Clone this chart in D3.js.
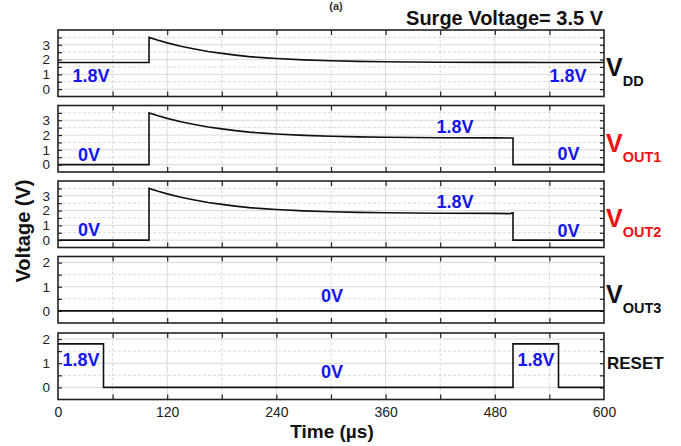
<!DOCTYPE html>
<html>
<head>
<meta charset="utf-8">
<script src="https://cdn.jsdelivr.net/npm/d3@7"></script>
<style>
  body { margin: 0; background: #fff; }
  svg { display: block; font-family: "Liberation Sans", Arial, sans-serif; }
</style>
</head>
<body>
<svg id="chart" width="681" height="446"></svg>
<script>
// time axis (µs)
var timeTicks = [0, 120, 240, 360, 480, 600];

// surge decay
var surgeT = [100, 110, 120, 135, 150, 165, 180, 195, 210, 225, 240, 270, 300, 330, 360, 420, 480];
var surgeV = [3.5, 3.3, 3.13, 2.9, 2.72, 2.55, 2.42, 2.3, 2.2, 2.13, 2.07, 1.98, 1.92, 1.88, 1.85, 1.82, 1.81];

var vddT = [0, 100].concat(surgeT, [540, 600]);
var vddV = [1.8, 1.8].concat(surgeV, [1.8, 1.8]);
var out1T = [0, 100].concat(surgeT, [500, 500, 600]);
var out1V = [0, 0].concat(surgeV, [1.8, 0, 0]);
var out2T = [0, 100].concat(surgeT, [497, 499, 500, 500, 600]);
var out2V = [0, 0].concat(surgeV, [1.79, 1.84, 1.84, 0, 0]);
var out3T = [0, 600];
var out3V = [0, 0];
var resetT = [0, 50, 50, 500, 500, 550, 550, 600];
var resetV = [1.8, 1.8, 0, 0, 1.8, 1.8, 0, 0];

var panelNames = ["VDD", "VOUT1", "VOUT2", "VOUT3", "RESET"];
var panelT = [vddT, out1T, out2T, out3T, resetT];
var panelV = [vddV, out1V, out2V, out3V, resetV];
var panelMax = [4, 4, 4, 2.25, 2.25];
var panelLabelMax = [3, 3, 3, 2, 2];
// annotations: [panel, text, time, volts]
var notes = [
  [0, "1.8V", 16, 0.45], [0, "1.8V", 540, 0.45],
  [1, "0V", 22, 0.25], [1, "1.8V", 416, 2.15], [1, "0V", 549, 0.3],
  [2, "0V", 22, 0.25], [2, "1.8V", 416, 2.15], [2, "0V", 549, 0.2],
  [3, "0V", 289, 0.37],
  [4, "1.8V", 5, 0.87], [4, "0V", 289, 0.37], [4, "1.8V", 505, 0.87]
];

var svg = d3.select("#chart");
var left = 58, right = 604, ph = 66.5;
var tops = [30, 105.5, 181, 256.5, 333];
var x = d3.scaleLinear().domain([0, 600]).range([left, right]);
var line = d3.line();

svg.append("text").attr("x", 336).attr("y", 10).attr("text-anchor", "middle")
  .attr("font-size", 11).attr("font-weight", "bold").attr("fill", "#333").text("(a)");

svg.append("text").attr("x", 603).attr("y", 25).attr("text-anchor", "end")
  .attr("font-size", 20).attr("font-weight", "bold").attr("fill", "#111")
  .text("Surge Voltage= 3.5 V");

panelNames.forEach(function (name, i) {
  var top = tops[i], bot = top + ph;
  var y = d3.scaleLinear().domain([-0.5, panelMax[i]]).range([bot, top]);
  var g = svg.append("g");
  var halves = d3.range(0, panelMax[i], 0.5);

  // grid
  g.selectAll(".hg").data(halves).enter().append("line")
    .attr("x1", left).attr("x2", right)
    .attr("y1", function (d) { return y(d); }).attr("y2", function (d) { return y(d); })
    .attr("stroke", "#cfcfcf").attr("stroke-width", 0.8)
    .attr("stroke-dasharray", function (d) { return d % 1 === 0 ? null : "3,2"; });
  g.selectAll(".vg").data(d3.range(60, 600, 60)).enter().append("line")
    .attr("x1", function (d) { return x(d); }).attr("x2", function (d) { return x(d); })
    .attr("y1", top).attr("y2", bot)
    .attr("stroke", "#cfcfcf").attr("stroke-width", 0.8)
    .attr("stroke-dasharray", function (d) { return d % 120 === 0 ? null : "3,2"; });

  // inner ticks
  var tx = d3.range(60, 600, 60);
  g.append("g").attr("transform", "translate(0," + bot + ")")
    .call(d3.axisBottom(x).tickValues(tx).tickSize(-5).tickFormat(""));
  g.append("g").attr("transform", "translate(0," + top + ")")
    .call(d3.axisTop(x).tickValues(tx).tickSize(-5).tickFormat(""));
  g.append("g").attr("transform", "translate(" + right + ",0)")
    .call(d3.axisRight(y).tickValues(halves).tickSize(-4).tickFormat(""));
  g.append("g").attr("transform", "translate(" + left + ",0)")
    .call(d3.axisLeft(y).tickValues(halves).tickSize(-4).tickPadding(8)
      .tickFormat(function (d) { return (d % 1 === 0 && d <= panelLabelMax[i]) ? d : ""; }));
  g.selectAll(".domain").remove();
  g.selectAll(".tick line").attr("stroke", "#222").attr("stroke-width", 1.2);
  g.selectAll(".tick text").attr("font-size", 13.5).attr("fill", "#222")
    .attr("font-family", "Liberation Sans, Arial, sans-serif");

  // signal
  var pts = panelT[i].map(function (t, k) { return [x(t), y(panelV[i][k])]; });
  g.append("path").attr("d", line(pts)).attr("fill", "none")
    .attr("stroke", "#111").attr("stroke-width", 1.6);

  g.append("rect").attr("x", left).attr("y", top).attr("width", right - left).attr("height", ph)
    .attr("fill", "none").attr("stroke", "#222").attr("stroke-width", 1.6);

  // right label
  if (name === "RESET") {
    g.append("text").attr("x", 607).attr("y", top + 36).attr("font-size", 17)
      .attr("font-weight", "bold").attr("fill", "#111").text("RESET");
  } else {
    var col = (name === "VOUT1" || name === "VOUT2") ? "#ee1111" : "#111";
    var t = g.append("text").attr("x", 606).attr("y", top + 46)
      .attr("font-weight", "bold").attr("fill", col);
    t.append("tspan").attr("font-size", 25).text("V");
    t.append("tspan").attr("font-size", 14.5).attr("dy", 10).text(name.slice(1));
  }
});

// blue value notes
notes.forEach(function (n) {
  var top = tops[n[0]];
  var y = d3.scaleLinear().domain([-0.5, panelMax[n[0]]]).range([top + ph, top]);
  svg.append("text").attr("x", x(n[2])).attr("y", y(n[3]))
    .attr("font-size", 18).attr("font-weight", "bold").attr("fill", "#1515ee").text(n[1]);
});

// x axis labels under last panel
var xa = svg.append("g").attr("transform", "translate(0," + (tops[4] + ph) + ")")
  .call(d3.axisBottom(x).tickValues(timeTicks).tickSize(0).tickPadding(8));
xa.select(".domain").remove();
xa.selectAll("text").attr("font-size", 14).attr("fill", "#222")
  .attr("font-family", "Liberation Sans, Arial, sans-serif");

svg.append("text").attr("x", 332).attr("y", 438).attr("text-anchor", "middle")
  .attr("font-size", 19).attr("font-weight", "bold").attr("fill", "#111").text("Time (µs)");

svg.append("text").attr("transform", "translate(30,231) rotate(-90)")
  .attr("text-anchor", "middle").attr("font-size", 20).attr("font-weight", "bold")
  .attr("fill", "#111").text("Voltage (V)");
</script>
</body>
</html>
